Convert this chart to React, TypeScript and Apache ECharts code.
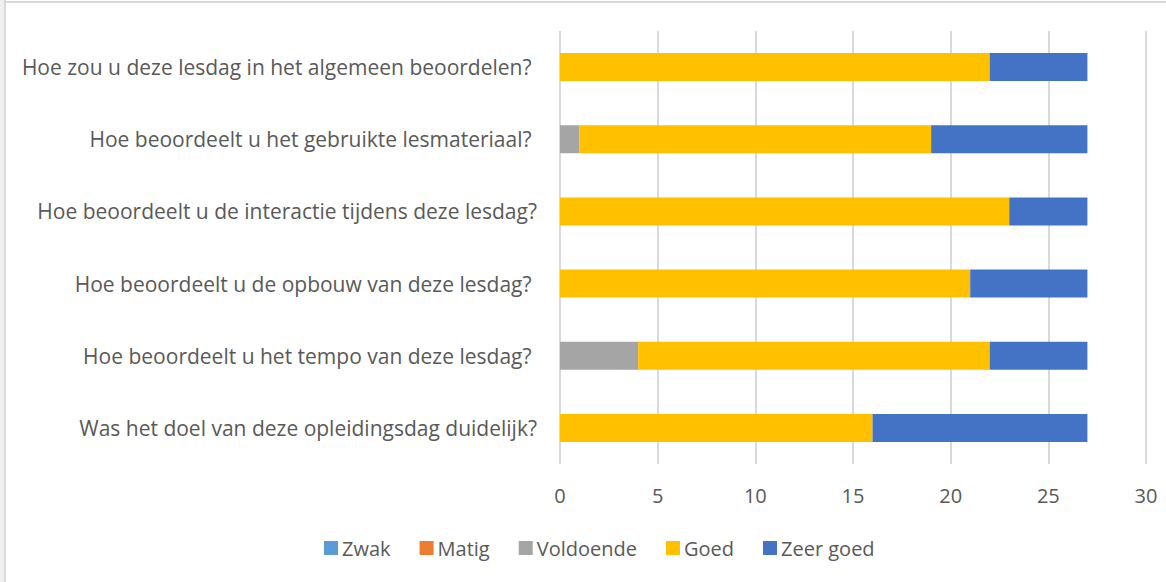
import React, { useEffect, useRef } from "react";
import * as echarts from "echarts";

const categories = [
  "Was het doel van deze opleidingsdag duidelijk?",
  "Hoe beoordeelt u het tempo van deze lesdag? ",
  "Hoe beoordeelt u de opbouw van deze lesdag? ",
  "Hoe beoordeelt u de interactie tijdens deze lesdag?",
  "Hoe beoordeelt u het gebruikte lesmateriaal? ",
  "Hoe zou u deze lesdag in het algemeen beoordelen? ",
];

const seriesNames = ["Zwak", "Matig", "Voldoende", "Goed", "Zeer goed"];
const seriesColors = ["#5B9BD5", "#ED7D31", "#A5A5A5", "#FFC000", "#4472C4"];

const zwak = [0, 0, 0, 0, 0, 0];
const matig = [0, 0, 0, 0, 0, 0];
const voldoende = [0, 4, 0, 0, 1, 0];
const goed = [16, 18, 21, 23, 18, 22];
const zeerGoed = [11, 5, 6, 4, 8, 5];

const seriesValues = [zwak, matig, voldoende, goed, zeerGoed];

const FONT = "'Open Sans', 'Noto Sans', sans-serif";

export default function App() {
  const ref = useRef<HTMLDivElement>(null);

  useEffect(() => {
    if (!ref.current) return;
    const chart = echarts.init(ref.current, undefined, { renderer: "svg" });
    chart.setOption({
      animation: false,
      backgroundColor: "#ffffff",
      textStyle: { fontFamily: FONT },
      graphic: [
        { type: "rect", left: 0, top: 0, shape: { x: 0, y: 0, width: 5, height: 582 }, style: { fill: "#f0f0f0" }, silent: true },
        { type: "line", shape: { x1: 5, y1: 0, x2: 5, y2: 582 }, style: { stroke: "#d9d9d9", lineWidth: 2 }, silent: true },
        { type: "line", shape: { x1: 5, y1: 2, x2: 1166, y2: 2 }, style: { stroke: "#d9d9d9", lineWidth: 2 }, silent: true },
      ],
      grid: { left: 560, right: 20, top: 31, bottom: 118, containLabel: false },
      legend: {
        data: seriesNames,
        left: 319,
        top: 533,
        icon: "rect",
        itemWidth: 14,
        itemHeight: 14,
        itemGap: 29,
        textStyle: { fontFamily: FONT, fontSize: 20, color: "#595959", padding: [0, 0, 0, -1] },
      },
      xAxis: {
        type: "value",
        min: 0,
        max: 30,
        interval: 5,
        axisLine: { show: false },
        axisTick: { show: false },
        axisLabel: { fontFamily: FONT, fontSize: 20, color: "#595959", margin: 21 },
        splitLine: { show: true, lineStyle: { color: "#d9d9d9", width: 2 } },
      },
      yAxis: {
        type: "category",
        data: categories,
        axisLine: { show: false },
        axisTick: { show: false },
        axisLabel: { fontFamily: FONT, fontSize: 21, color: "#595959", margin: 23 },
      },
      series: seriesNames.map((name, i) => ({
        name,
        type: "bar",
        stack: "total",
        barWidth: 28,
        itemStyle: { color: seriesColors[i] },
        data: seriesValues[i],
      })),
    });
    return () => chart.dispose();
  }, []);

  return (
    <div style={{ position: "fixed", left: 0, top: 0, width: 1166, height: 582, background: "#fff" }}>
      <div ref={ref} style={{ width: 1166, height: 582 }} />
    </div>
  );
}
